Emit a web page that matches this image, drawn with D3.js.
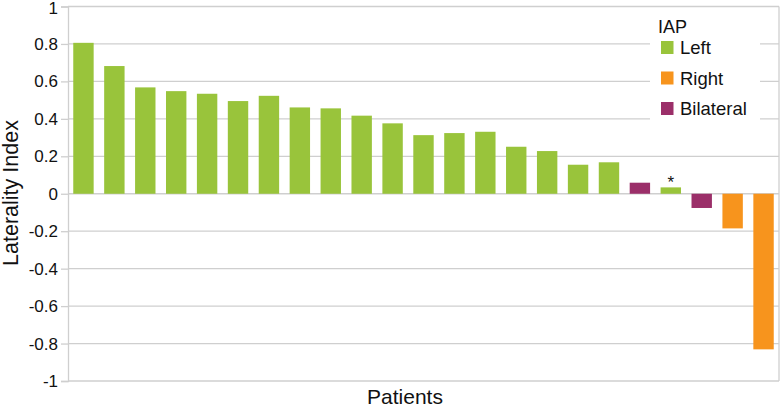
<!DOCTYPE html>
<html>
<head>
<meta charset="utf-8">
<script src="https://cdn.jsdelivr.net/npm/d3@7"></script>
<style>
  html, body { margin: 0; padding: 0; background: #fff; }
  svg { display: block; font-family: "Liberation Sans", Arial, Helvetica, sans-serif; }
</style>
</head>
<body>
<svg id="chart" width="780" height="408"></svg>
<script>
// ---- data ----
const patients = ["P1","P2","P3","P4","P5","P6","P7","P8","P9","P10","P11","P12",
                  "P13","P14","P15","P16","P17","P18","P19","P20","P21","P22","P23"];
const lateralityIndex = [0.806, 0.682, 0.568, 0.548, 0.534, 0.495, 0.523, 0.461, 0.456,
                         0.417, 0.376, 0.313, 0.324, 0.331, 0.251, 0.228, 0.155, 0.168,
                         0.059, 0.034, -0.076, -0.185, -0.831];
const iapGroup = ["Left","Left","Left","Left","Left","Left","Left","Left","Left",
                  "Left","Left","Left","Left","Left","Left","Left","Left","Left",
                  "Bilateral","Left","Bilateral","Right","Right"];
const markedPatients = ["P20"];
const legendLabels = ["Left", "Right", "Bilateral"];
const yTicks = [-1, -0.8, -0.6, -0.4, -0.2, 0, 0.2, 0.4, 0.6, 0.8, 1];

const colors = { Left: "#99c43b", Right: "#f7941d", Bilateral: "#9b2f69" };

const svg = d3.select("#chart");
const plotL = 68, plotR = 779, plotT = 6.5, plotB = 381;

const x = d3.scaleBand().domain(patients).range([plotL, plotR]).paddingInner(0.34).paddingOuter(0.17);
const y = d3.scaleLinear().domain([-1, 1]).range([plotB, plotT]);

const gridColor = "#cfcfcf";

// gridlines
svg.append("g").selectAll("line").data(yTicks).join("line")
  .attr("x1", plotL).attr("x2", plotR)
  .attr("y1", d => y(d)).attr("y2", d => y(d))
  .attr("stroke", gridColor).attr("stroke-width", 1.3);

// right border
svg.append("line").attr("x1", plotR).attr("x2", plotR).attr("y1", plotT).attr("y2", plotB)
  .attr("stroke", gridColor).attr("stroke-width", 1.3);

// y axis
const yAxis = d3.axisLeft(y).tickValues(yTicks).tickSize(7).tickPadding(3)
  .tickFormat(d => String(Math.round(d * 10) / 10));
const ya = svg.append("g").attr("transform", `translate(${plotL},0)`).call(yAxis);
ya.select(".domain").attr("stroke", gridColor).attr("stroke-width", 1.3);
ya.selectAll(".tick line").attr("stroke", gridColor).attr("stroke-width", 1.3);
ya.selectAll(".tick text").attr("fill", "#111").style("font-size", "17px")
  .style("font-family", "'Liberation Sans', Arial, sans-serif")
  .attr("dy", d => d === 1 ? "0.42em" : "0.32em");

// legend background (white box)
const lg = svg.append("g");
lg.append("rect").attr("x", 650).attr("y", 12).attr("width", 110).attr("height", 112).attr("fill", "#fff");
lg.append("text").attr("x", 658).attr("y", 32.5).text("IAP")
  .style("font-size", "18px").attr("fill", "#111");
legendLabels.forEach((k, i) => {
  const cy = 47.5 + i * 30.5;
  lg.append("rect").attr("x", 661).attr("y", cy - 6.5).attr("width", 12.5).attr("height", 13)
    .attr("fill", colors[k]);
  lg.append("text").attr("x", 680).attr("y", cy + 6.8).text(k)
    .style("font-size", "18.5px").attr("fill", "#111");
});

// bars
svg.append("g").selectAll("rect").data(patients).join("rect")
  .attr("x", d => x(d))
  .attr("width", x.bandwidth())
  .attr("y", (d, i) => y(Math.max(0, lateralityIndex[i])))
  .attr("height", (d, i) => Math.abs(y(lateralityIndex[i]) - y(0)))
  .attr("fill", (d, i) => colors[iapGroup[i]]);

// asterisk marker
svg.append("g").selectAll("text").data(markedPatients).join("text")
  .attr("x", d => x(d) + x.bandwidth() / 2)
  .attr("y", d => y(lateralityIndex[patients.indexOf(d)]) + 1)
  .attr("text-anchor", "middle")
  .style("font-size", "17px").attr("fill", "#111").text("*");

// axis titles
svg.append("text").attr("x", 405).attr("y", 404).attr("text-anchor", "middle")
  .style("font-size", "21px").attr("fill", "#111").text("Patients");
svg.append("text").attr("transform", `translate(18,193) rotate(-90)`).attr("text-anchor", "middle")
  .style("font-size", "21.5px").attr("fill", "#111").text("Laterality Index");
</script>
</body>
</html>
